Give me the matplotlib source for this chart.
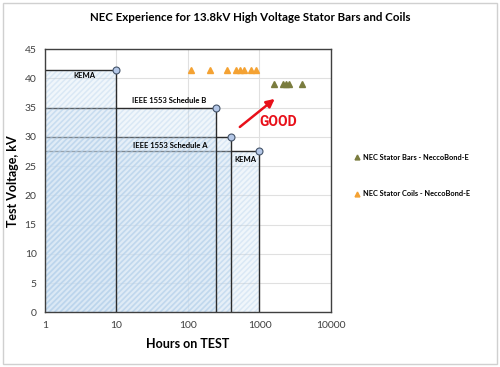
import matplotlib
matplotlib.use("Agg")
import matplotlib.pyplot as plt
from matplotlib.patches import Rectangle

plt.rcParams["font.family"] = ["Lato", "DejaVu Sans"]
plt.rcParams["hatch.linewidth"] = 1.1

# ---- 資料 ----
test_names = ["KEMA", "IEEE 1553 Schedule B", "IEEE 1553 Schedule A", "KEMA"]
test_hours = [10, 250, 400, 1000]
test_kv = [41.4, 35, 30, 27.6]

coil_hours = [110, 205, 350, 470, 530, 600, 760, 890]
coil_kv = [41.4] * len(coil_hours)
bar_hours = [1600, 2100, 2350, 2600, 3900]
bar_kv = [39] * len(bar_hours)

yticks = [0, 5, 10, 15, 20, 25, 30, 35, 40, 45]
xticks = [1, 10, 100, 1000, 10000]
xticklabels = ["1", "10", "100", "1000", "10000"]

fig = plt.figure(figsize=(5, 3.67), dpi=100)
fig.patches.append(Rectangle((0.006, 0.008), 0.988, 0.984, transform=fig.transFigure,
                             fill=False, ec="#d0d0d0", lw=1))
ax = fig.add_axes([0.09, 0.149, 0.572, 0.717])
ax.set_xscale("log")
ax.set_xlim(1, 10000)
ax.set_ylim(0, 45)

# 測試區塊(大的先畫,小的蓋上去;每塊的框線畫在自己的填色上)
z = 2
for i in reversed(range(len(test_hours))):
    h, v = test_hours[i], test_kv[i]
    ax.add_patch(Rectangle((1, 0), h - 1, v, fc="#cfe2f3", alpha=0.3, ec="none", zorder=z))
    ax.add_patch(Rectangle((1, 0), h - 1, v, fill=False, hatch="//////", ec="#a9c9e8",
                           lw=0, alpha=0.3, zorder=z + 0.1))
    ax.plot([1, h, h], [v, v, 0], color="#2b2b2b", lw=1.0, zorder=z + 0.2)
    z += 1
ax.plot(test_hours, test_kv, "o", ms=5, mfc="#b4c7e7", mec="#44546a", mew=0.8, zorder=10)

ax.text(3.6, 41.1, test_names[0], ha="center", va="top", fontsize=5.5, fontweight="bold", zorder=11)
ax.text(54, 35.6, test_names[1], ha="center", va="bottom", fontsize=5.5, fontweight="bold", zorder=11)
ax.text(56, 28.6, test_names[2], ha="center", va="center", fontsize=5.5, fontweight="bold", zorder=11)
ax.text(630, 26.2, test_names[3], ha="center", va="center", fontsize=5.5, fontweight="bold", zorder=11)

ax.plot(bar_hours, bar_kv, "^", ms=5, color="#7a7c3e", ls="none", zorder=10,
        label="NEC Stator Bars - NeccoBond-E")
ax.plot(coil_hours, coil_kv, "^", ms=5, color="#f4a233", ls="none", zorder=10,
        label="NEC Stator Coils - NeccoBond-E")

# GOOD 箭頭
ax.annotate("", xy=(1750, 36.8), xytext=(495, 31.4),
            arrowprops=dict(arrowstyle="-|>", color="#e8101a", lw=1.8, mutation_scale=12), zorder=11)
ax.text(1830, 32.6, "GOOD", color="#e8101a", fontsize=10, fontweight="bold",
        family=["Roboto", "DejaVu Sans"], ha="center", va="center", zorder=11)

ax.set_yticks(yticks)
ax.set_xticks(xticks)
ax.set_xticklabels(xticklabels)
ax.minorticks_off()
ax.tick_params(length=0, labelsize=7.5, labelcolor="#404040", pad=6)
ax.grid(True, color="#e0e0e0", lw=0.8, zorder=0)
ax.set_axisbelow(True)
for s in ax.spines.values():
    s.set_color("#404040")
    s.set_linewidth(1.0)
    s.set_zorder(12)

ax.set_xlabel("Hours on TEST", fontsize=9, fontweight="bold", labelpad=6)
ax.set_ylabel("Test Voltage, kV", fontsize=9, fontweight="bold", labelpad=4)
fig.text(0.5, 0.951, "NEC Experience for 13.8kV High Voltage Stator Bars and Coils",
         ha="center", va="center", fontsize=8.3, fontweight="bold")

ax.legend(loc="center left", bbox_to_anchor=(1.08, 0.52), frameon=False,
          prop={"weight": "bold", "size": 5.3}, handlelength=0.8, handletextpad=0.4,
          labelspacing=4.0, borderpad=0, borderaxespad=0, markerscale=0.7)

fig.savefig("out.png", dpi=100)
